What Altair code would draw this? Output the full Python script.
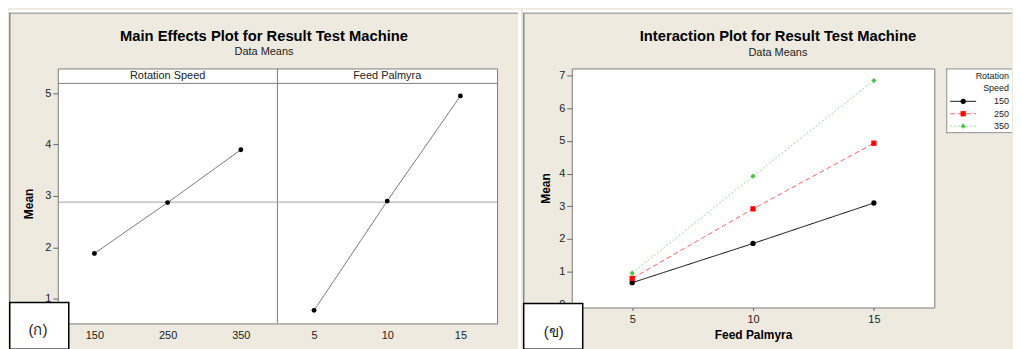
import altair as alt
import pandas as pd

# ---------------- data ----------------
rotation_levels = ["150", "250", "350"]
rotation_means = [1.88, 2.87, 3.90]
feed_levels = ["5", "10", "15"]
feed_means = [0.77, 2.90, 4.95]
grand_mean = [2.88]
factor_names = ["Rotation Speed", "Feed Palmyra"]

speed_levels = ["150", "250", "350"]
means_speed_150 = [0.66, 1.86, 3.10]
means_speed_250 = [0.79, 2.92, 4.93]
means_speed_350 = [0.95, 3.92, 6.85]

left_title = "Main Effects Plot for Result Test Machine"
right_title = "Interaction Plot for Result Test Machine"
subtitle = "Data Means"
left_tag = "(ก)"
right_tag = "(ข)"
legend_title = ["Rotation", "Speed"]
x_title_right = "Feed Palmyra"
y_title = "Mean"

# ---------------- styles ----------------
BEIGE = "#EEEAE0"
FRAME = "#8A8A8A"
PLOT = "#7C7C7C"
FONT = "Liberation Sans"
line_colors = ["#000000", "#FF6060", "#8FDC8F"]
marker_colors = ["#000000", "#FF0000", "#4CC44C"]
dashes = [[1, 0], [5, 3], [2, 2]]
shapes = ["circle", "square", "diamond"]

# ---------------- tables ----------------
all_levels = rotation_levels + feed_levels
main_df = pd.DataFrame({
    "factor": [factor_names[0]] * len(rotation_levels) + [factor_names[1]] * len(feed_levels),
    "level": all_levels,
    "mean": rotation_means + feed_means,
    "idx": list(range(len(rotation_levels))) + list(range(len(feed_levels))),
})
strip_df = pd.DataFrame({"factor": factor_names, "center": [rotation_levels[1], feed_levels[1]]})
gm_df = pd.DataFrame({"gm": grand_mean})
inter_df = pd.DataFrame({
    "speed": [s for s in speed_levels for _ in feed_levels],
    "feed": feed_levels * len(speed_levels),
    "mean": means_speed_150 + means_speed_250 + means_speed_350,
    "idx": list(range(len(feed_levels))) * len(speed_levels),
})
leg_df = pd.DataFrame({"speed": speed_levels})
one = pd.DataFrame({"k": [0]})


def vrect(x, x2, y, y2, **kw):
    return alt.Chart(one).mark_rect(**kw).encode(
        x=alt.value(x), x2=alt.value(x2), y=alt.value(y), y2=alt.value(y2))


def vline(x, y, y2, **kw):
    return alt.Chart(one).mark_rule(**kw).encode(x=alt.value(x), y=alt.value(y), y2=alt.value(y2))


def hline(y, x, x2, **kw):
    return alt.Chart(one).mark_rule(**kw).encode(y=alt.value(y), x=alt.value(x), x2=alt.value(x2))


def vtext(x, y, text, **kw):
    return alt.Chart(one).mark_text(text=text, **kw).encode(x=alt.value(x), y=alt.value(y))


# ---------------- left: main effects ----------------
LW, LH = 441, 256          # view includes the 15px strip header on top
STRIP = 15
lscale_x = alt.Scale(type="point", domain=all_levels, padding=0.5)
lscale_y = alt.Scale(domain=[0.515, 5.194], nice=False, zero=False, range=[LH, STRIP])
lx_axis = alt.Axis(title=None, ticks=False, domain=False, grid=False, labelAngle=0,
                   labelPadding=6, labelFontSize=11, labelColor="#222")
ly_axis = alt.Axis(values=[1, 2, 3, 4, 5], title=y_title, titleFontSize=12,
                   titleFontWeight="bold", titleColor="#000", titlePadding=9,
                   tickSize=5, tickColor="#666", labelPadding=2, labelFontSize=11,
                   labelColor="#222", domain=False, grid=False)
x_main = alt.X("level:N", sort=all_levels, scale=lscale_x, axis=lx_axis)
y_main = alt.Y("mean:Q", scale=lscale_y, axis=ly_axis)

left = alt.layer(
    vrect(-49, 465, -59, 282, opacity=0),
    vrect(-49, 465, -59, -56, color="white"),
    vrect(462, 465, -59, 282, color="white"),
    vline(-48.25, -56, 282, color=FRAME, strokeWidth=1.5),
    hline(-55.5, -49, 462, color=FRAME, strokeWidth=1),
    hline(STRIP, 0, LW, color=PLOT, strokeWidth=1),
    vline(LW / 2, 0, LH, color=PLOT, strokeWidth=1),
    alt.Chart(gm_df).mark_rule(color="#A0A0A0", strokeWidth=1).encode(
        y=alt.Y("gm:Q", scale=lscale_y, axis=ly_axis), x=alt.value(0), x2=alt.value(LW)),
    alt.Chart(main_df).mark_line(color="#7A7A7A", strokeWidth=1).encode(
        x=x_main, y=y_main, detail="factor:N", order="idx:Q"),
    alt.Chart(main_df).mark_circle(color="black", size=24, opacity=1).encode(x=x_main, y=y_main),
    alt.Chart(strip_df).mark_text(fontSize=11, color="#222").encode(
        x=alt.X("center:N", sort=all_levels, scale=lscale_x, axis=lx_axis),
        y=alt.value(STRIP / 2), text="factor:N"),
    vtext(207, -31.5, left_title, fontSize=14.8, fontWeight="bold", color="#000"),
    vtext(207, -16.5, subtitle, fontSize=11, color="#222"),
    vrect(-48.25, 11, 235, 282, fill="white", stroke="#000", strokeWidth=1.5),
    vtext(-20, 263, left_tag, fontSize=15, color="#222"),
).properties(width=LW, height=LH)

# ---------------- right: interaction ----------------
RW, RH = 364, 240
RX2 = 442                  # right edge of the canvas, relative to the view
rscale_x = alt.Scale(type="point", domain=feed_levels, padding=0.5)
rscale_y = alt.Scale(domain=[-0.1, 7.22], nice=False, zero=False)
rx = alt.X("feed:N", sort=feed_levels, scale=rscale_x,
           axis=alt.Axis(title=x_title_right, titleFontSize=12, titleFontWeight="bold",
                         titleColor="#000", titlePadding=5, tickSize=3, tickColor="#666",
                         labelPadding=3, labelAngle=0, labelFontSize=11, labelColor="#222",
                         domain=False, grid=False))
ry = alt.Y("mean:Q", scale=rscale_y,
           axis=alt.Axis(values=list(range(8)), title=y_title, titleFontSize=12,
                         titleFontWeight="bold", titleColor="#000", titlePadding=6,
                         tickSize=5, tickColor="#666", labelPadding=2, labelFontSize=11,
                         labelColor="#222", domain=False, grid=False))
stroke_enc = alt.Stroke("speed:N", sort=speed_levels,
                        scale=alt.Scale(domain=speed_levels, range=line_colors), legend=None)
dash_enc = alt.StrokeDash("speed:N", sort=speed_levels,
                          scale=alt.Scale(domain=speed_levels, range=dashes), legend=None)
fill_enc = alt.Fill("speed:N", sort=speed_levels,
                    scale=alt.Scale(domain=speed_levels, range=marker_colors), legend=None)
shape_enc = alt.Shape("speed:N", sort=speed_levels,
                      scale=alt.Scale(domain=speed_levels, range=shapes), legend=None)

right_main = alt.layer(
    vrect(-49, RX2, -59, 282, opacity=0),
    vrect(-49, RX2, -59, -56, color="white"),
    vline(-48.25, -56, 282, color=FRAME, strokeWidth=1.5),
    hline(-55.5, -49, RX2, color=FRAME, strokeWidth=1),
    alt.Chart(inter_df).mark_line(strokeWidth=1).encode(
        x=rx, y=ry, stroke=stroke_enc, strokeDash=dash_enc, order="idx:Q"),
    alt.Chart(inter_df).mark_point(filled=True, size=28, opacity=1).encode(
        x=rx, y=ry, fill=fill_enc, shape=shape_enc),
    vtext(207, -32, right_title, fontSize=14.8, fontWeight="bold", color="#000"),
    vtext(207, -15.5, subtitle, fontSize=11, color="#222"),
    vrect(376, RX2, 0, 65, fill="white"),
    vline(376.5, 0, 65, color=FRAME, strokeWidth=1),
    hline(0.5, 376, RX2, color=FRAME, strokeWidth=1),
    hline(64.5, 376, RX2, color=FRAME, strokeWidth=1),
    vtext(439, 8, legend_title[0], fontSize=9, align="right", color="#222"),
    vtext(439, 20, legend_title[1], fontSize=9, align="right", color="#222"),
    vrect(-48.25, 11, 236, 282, fill="white", stroke="#000", strokeWidth=1.5),
    vtext(-18, 265, right_tag, fontSize=15, color="#222"),
)

leg_y = alt.Y("speed:N", sort=speed_levels,
              scale=alt.Scale(type="point", domain=speed_levels, range=[33, 58], padding=0),
              axis=None)
right_legend = alt.layer(
    alt.Chart(leg_df).mark_rule(strokeWidth=1).encode(
        x=alt.value(380), x2=alt.value(406), y=leg_y, stroke=stroke_enc, strokeDash=dash_enc),
    alt.Chart(leg_df).mark_point(filled=True, size=28, opacity=1).encode(
        x=alt.value(393), y=leg_y, fill=fill_enc, shape=shape_enc),
    alt.Chart(leg_df).mark_text(align="right", fontSize=9, color="#222").encode(
        x=alt.value(439), y=leg_y, text="speed:N"),
)

right = alt.layer(right_main, right_legend).resolve_scale(y="independent").properties(
    width=RW, height=RH)

chart = alt.hconcat(left, right, spacing=0).properties(padding=0).configure(
    background=BEIGE, font=FONT
).configure_view(stroke=PLOT, strokeWidth=1, fill="white")

chart.save("out.html", embed_options={"renderer": "svg", "actions": False})
